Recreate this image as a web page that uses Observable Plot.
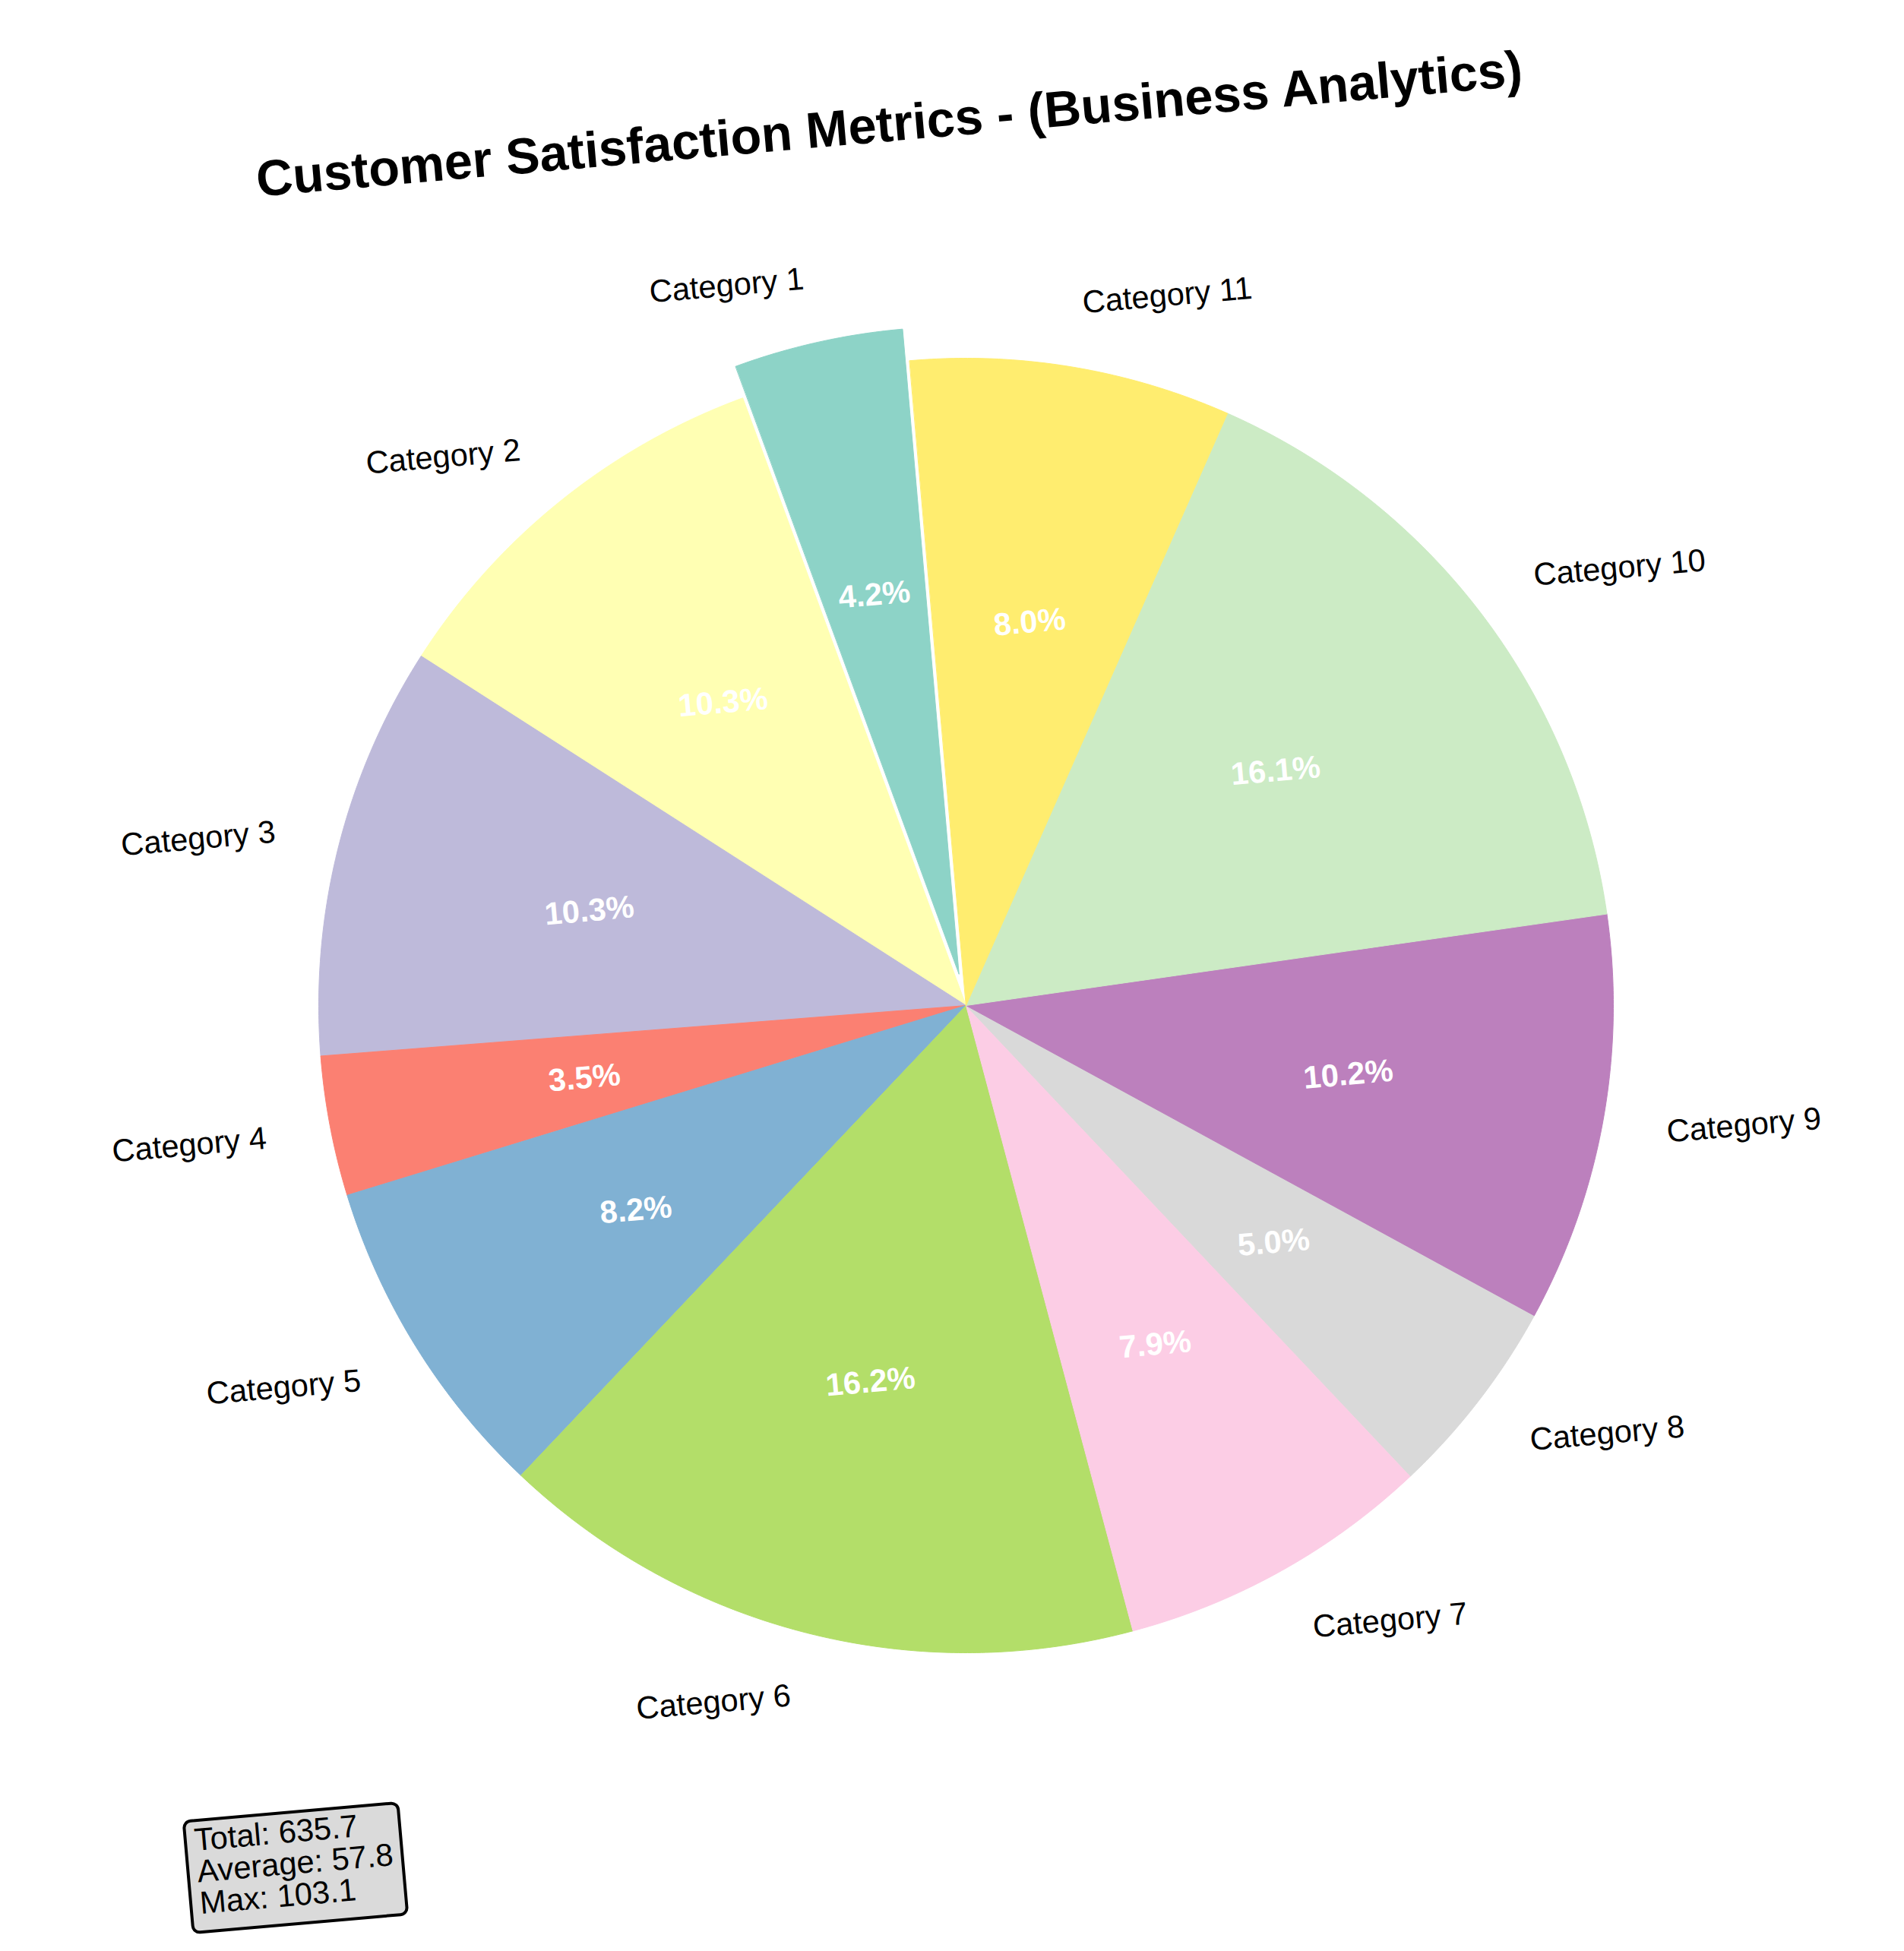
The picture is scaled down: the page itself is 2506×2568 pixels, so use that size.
<!DOCTYPE html>
<html>
<head>
<meta charset="utf-8">
<script src="https://cdn.jsdelivr.net/npm/d3@7"></script>
<script src="https://cdn.jsdelivr.net/npm/@observablehq/plot@0.6"></script>
<style>
  html, body { margin: 0; padding: 0; background: #ffffff; }
  #chart { width: 2506px; height: 2568px; }
</style>
</head>
<body>
<div id="chart"></div>
<script>
// ---------------- data ----------------
const categories = ["Category 1", "Category 2", "Category 3", "Category 4", "Category 5", "Category 6",
                    "Category 7", "Category 8", "Category 9", "Category 10", "Category 11"];
const values = [26.8, 65.6, 65.6, 22.2, 52.1, 103.1, 50.2, 31.8, 64.9, 102.5, 50.9];
const explode = [0.05, 0, 0, 0, 0, 0, 0, 0, 0, 0, 0];
const colors = ["#8dd3c7", "#ffffb3", "#bebada", "#fb8072", "#80b1d3", "#b3de69",
                "#fccde5", "#d9d9d9", "#bc80bd", "#ccebc5", "#ffed6f"];
const titleText = "Customer Satisfaction Metrics - (Business Analytics)";

// ---------------- layout ----------------
const W = 2506, H = 2568;
const CX = 1271, CY = 1323, R = 852;   // pie centre and radius (px)
const ROT = 5;                          // whole figure tilted 5° counter-clockwise
const START = 90;                       // matplotlib startangle
const FONT = "'Liberation Sans', Arial, Helvetica, sans-serif";
const FS = 41.7;                        // 10pt @ 300dpi

const total = d3.sum(values);
const rad = d => d * Math.PI / 180;

const slicePts = [];
const labelData = [];
let cum = 0;
values.forEach((v, i) => {
  const frac = v / total;
  const t1 = START + 360 * cum;          // unrotated angles (deg, ccw from +x)
  const t2 = t1 + 360 * frac;
  const tm = (t1 + t2) / 2;
  cum += frac;
  const ox = explode[i] * R * Math.cos(rad(tm + ROT));
  const oy = -explode[i] * R * Math.sin(rad(tm + ROT));
  const cx = CX + ox, cy = CY + oy;
  slicePts.push({cat: categories[i], x: cx, y: cy});
  const n = Math.max(4, Math.ceil((t2 - t1) / 0.4));
  for (let k = 0; k <= n; k++) {
    const a = rad(t1 + (t2 - t1) * k / n + ROT);
    slicePts.push({cat: categories[i], x: cx + R * Math.cos(a), y: cy - R * Math.sin(a)});
  }
  const am = rad(tm + ROT);
  labelData.push({
    cat: categories[i],
    right: Math.cos(rad(tm)) > 0,
    lx: cx + 1.1 * R * Math.cos(am),
    ly: cy - 1.1 * R * Math.sin(am),
    px: cx + 0.6 * R * Math.cos(am),
    py: cy - 0.6 * R * Math.sin(am),
    pct: (100 * frac).toFixed(1) + "%"
  });
});

const statsText = `Total: ${total.toFixed(1)}\nAverage: ${(total / values.length).toFixed(1)}\nMax: ${d3.max(values).toFixed(1)}`;

const plot = Plot.plot({
  width: W,
  height: H,
  margin: 0,
  x: {domain: [0, W], range: [0, W], axis: null},
  y: {domain: [0, H], range: [0, H], axis: null},
  color: {domain: categories, range: colors},
  style: {fontFamily: FONT, background: "#ffffff", overflow: "visible"},
  marks: [
    Plot.line(slicePts, {x: "x", y: "y", z: "cat", fill: "cat", stroke: "cat", strokeWidth: 1, curve: "linear-closed"}),
    Plot.text(labelData.filter(d => d.right), {x: "lx", y: "ly", text: "cat", textAnchor: "start",
      rotate: -ROT, fontSize: FS, fill: "#000000"}),
    Plot.text(labelData.filter(d => !d.right), {x: "lx", y: "ly", text: "cat", textAnchor: "end",
      rotate: -ROT, fontSize: FS, fill: "#000000"}),
    Plot.text(labelData, {x: "px", y: "py", text: "pct", textAnchor: "middle",
      rotate: -ROT, fontSize: FS, fontWeight: "bold", fill: "#ffffff"}),
    Plot.text([{x: 1170, y: 164, t: titleText}], {x: "x", y: "y", text: "t", textAnchor: "middle",
      rotate: -ROT, fontSize: 66.7, fontWeight: "bold", fill: "#000000"}),
    Plot.text([{x: 254, y: 2406, t: statsText}], {x: "x", y: "y", text: "t", textAnchor: "start",
      lineAnchor: "top", lineHeight: 1.0, rotate: -ROT, fontSize: FS, fill: "#000000"})
  ]
});

document.getElementById("chart").appendChild(plot);

// rounded box behind the stats text
const statsNode = Array.from(plot.querySelectorAll("text")).find(t => t.textContent.startsWith("Total:"));
if (statsNode) {
  const bb = statsNode.getBBox();
  let tr = statsNode.getAttribute("transform");
  if (!tr) tr = `translate(254,2406) rotate(${-ROT})`;
  const ns = "http://www.w3.org/2000/svg";
  const rect = document.createElementNS(ns, "rect");
  rect.setAttribute("transform", tr);
  rect.setAttribute("x", bb.x - 12);
  rect.setAttribute("y", -10);
  rect.setAttribute("width", bb.width + 24);
  rect.setAttribute("height", 147);
  rect.setAttribute("rx", 9);
  rect.setAttribute("ry", 9);
  rect.setAttribute("fill", "#dadada");
  rect.setAttribute("stroke", "#000000");
  rect.setAttribute("stroke-width", 4);
  statsNode.parentNode.insertBefore(rect, statsNode);
}
</script>
</body>
</html>
